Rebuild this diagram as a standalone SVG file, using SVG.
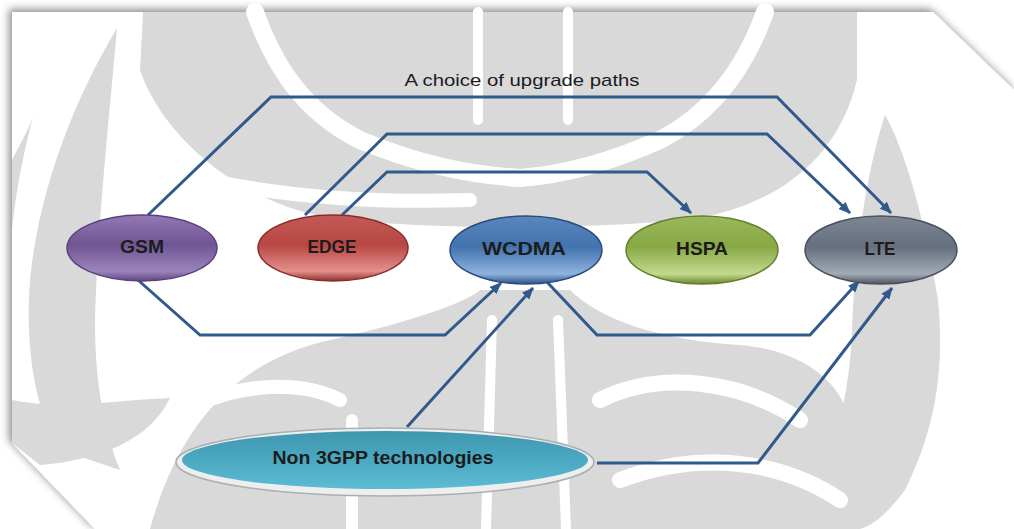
<svg xmlns="http://www.w3.org/2000/svg" width="1014" height="529" viewBox="0 0 1014 529">
  <defs>
    <style>
      .wm { fill: #d9d9d9; }
      .wmgap { fill: none; stroke: #ffffff; stroke-linecap: round; }
      .link { fill: none; stroke: #2f5a8b; stroke-width: 3; stroke-linejoin: miter; }
      .node-label { font-family: "Liberation Sans", Arial, sans-serif; font-weight: bold; font-size: 19px; fill: #1c1c1c; text-anchor: middle; }
      .title { font-family: "Liberation Sans", Arial, sans-serif; font-size: 17px; fill: #1b1b24; text-anchor: middle; }
      .rim { fill: none; stroke-width: 1.5; }
    </style>
    <filter id="pageShadow" x="-5%" y="-5%" width="110%" height="110%">
      <feGaussianBlur in="SourceAlpha" stdDeviation="4"/>
      <feOffset dx="-3" dy="-3" result="b"/>
      <feComponentTransfer><feFuncA type="linear" slope="0.45"/></feComponentTransfer>
      <feMerge><feMergeNode/><feMergeNode in="SourceGraphic"/></feMerge>
    </filter>
    <marker id="arrow" viewBox="0 0 12 10" refX="11" refY="5" markerWidth="12" markerHeight="10" markerUnits="userSpaceOnUse" orient="auto">
      <path d="M0,0 L12,5 L0,10 Z" fill="#2f5a8b"/>
    </marker>
    <linearGradient id="gPurple" x1="0" y1="0" x2="0" y2="1">
      <stop offset="0" stop-color="#9279b4"/>
      <stop offset="0.45" stop-color="#6f5593"/>
      <stop offset="0.85" stop-color="#9c84bd"/>
      <stop offset="1" stop-color="#5f4682"/>
    </linearGradient>
    <linearGradient id="gRed" x1="0" y1="0" x2="0" y2="1">
      <stop offset="0" stop-color="#c25a57"/>
      <stop offset="0.45" stop-color="#b94643"/>
      <stop offset="0.85" stop-color="#e3908d"/>
      <stop offset="1" stop-color="#8f302d"/>
    </linearGradient>
    <linearGradient id="gBlue" x1="0" y1="0" x2="0" y2="1">
      <stop offset="0" stop-color="#5a86bd"/>
      <stop offset="0.45" stop-color="#4273ad"/>
      <stop offset="0.85" stop-color="#8fb2de"/>
      <stop offset="1" stop-color="#2c5285"/>
    </linearGradient>
    <linearGradient id="gGreen" x1="0" y1="0" x2="0" y2="1">
      <stop offset="0" stop-color="#98b85a"/>
      <stop offset="0.45" stop-color="#88a846"/>
      <stop offset="0.85" stop-color="#c3da8c"/>
      <stop offset="1" stop-color="#6b8633"/>
    </linearGradient>
    <linearGradient id="gGray" x1="0" y1="0" x2="0" y2="1">
      <stop offset="0" stop-color="#7d8693"/>
      <stop offset="0.45" stop-color="#666f7d"/>
      <stop offset="0.85" stop-color="#a2aab5"/>
      <stop offset="1" stop-color="#4e5662"/>
    </linearGradient>
    <linearGradient id="gTeal" x1="0" y1="0" x2="0" y2="1">
      <stop offset="0" stop-color="#3f97ae"/>
      <stop offset="0.5" stop-color="#4aa9c2"/>
      <stop offset="1" stop-color="#5dbbd2"/>
    </linearGradient>
  </defs>

  <!-- backdrop -->
  <rect width="1014" height="529" fill="#ffffff"/>

  <!-- sheet with snipped corners -->
  <polygon points="12,12 933,12 1014,90 1014,529 95,529 12,443" fill="#ffffff" filter="url(#pageShadow)"/>

  <!-- watermark emblem -->
  <g id="watermark">
    <!-- outer crescents -->
    <path class="wm" d="M117,28 C80,90 40,180 30,280 C25,350 35,410 60,450 L120,470 C100,420 92,360 96,290 C100,200 110,110 117,28 Z"/>
    <path class="wm" d="M33,117 C26,135 18,148 12,160 L12,230 C16,190 24,150 33,117 Z"/>
    <path class="wm" d="M885,115 C905,150 925,220 938,300 C945,370 935,430 905,490 C890,510 875,525 860,529 L800,529 C830,470 850,400 852,330 C855,240 870,160 885,115 Z"/>
    <path class="wm" d="M12,400 C60,410 120,400 170,398 C150,440 100,460 40,465 L12,443 Z"/>
    <!-- crown -->
    <path class="wm" d="M143,12 L857,12 L857,80 C840,150 790,200 700,218 C600,230 420,230 330,218 C230,200 160,130 140,70 Z"/>
    <path class="wmgap" stroke-width="18" d="M255,12 C272,60 300,110 360,140 C420,165 470,175 520,178"/>
    <path class="wmgap" stroke-width="18" d="M765,12 C748,60 718,110 660,140 C604,165 560,175 520,178"/>
    <path class="wmgap" stroke-width="10" d="M478,12 L478,120"/>
    <path class="wmgap" stroke-width="10" d="M568,12 L568,120"/>
    <path class="wmgap" stroke-width="14" d="M175,172 C250,192 350,204 470,200"/>
    <!-- trunk and roots -->
    <path class="wm" d="M150,529 C180,420 240,360 330,340 C420,320 470,300 480,290 L570,290 C600,320 660,340 740,345 C800,350 840,380 850,420 L850,529 Z"/>
    <path class="wmgap" stroke-width="14" d="M170,420 C230,380 300,380 340,400"/>
    <path class="wmgap" stroke-width="16" d="M600,400 C660,370 740,380 800,420"/>
    <path class="wmgap" stroke-width="16" d="M620,480 C700,450 780,460 840,500"/>
    <path class="wmgap" stroke-width="12" d="M352,420 L352,529"/>
    <path class="wmgap" stroke-width="10" d="M492,320 L486,529"/>
    <path class="wmgap" stroke-width="10" d="M558,320 L566,529"/>
  </g>

  <text class="title" x="522" y="86" textLength="235" lengthAdjust="spacingAndGlyphs">A choice of upgrade paths</text>

  <!-- connectors -->
  <g id="connectors">
    <polyline class="link" points="148,215 271,97 777,97 891,213" marker-end="url(#arrow)"/>
    <polyline class="link" points="305,215 387,134 767,134 850,213" marker-end="url(#arrow)"/>
    <polyline class="link" points="342,215 387,172 647,172 691,213" marker-end="url(#arrow)"/>
    <polyline class="link" points="138,280 200,335 445,335 501,283" marker-end="url(#arrow)"/>
    <polyline class="link" points="407,427 533,288" marker-end="url(#arrow)"/>
    <polyline class="link" points="547,282 597,335 810,335 859,281" marker-end="url(#arrow)"/>
    <polyline class="link" points="597,463 758,463 892,288" marker-end="url(#arrow)"/>
  </g>

  <!-- nodes -->
  <g id="gsm">
    <ellipse cx="142" cy="248" rx="75" ry="33" fill="url(#gPurple)"/>
    <ellipse class="rim" cx="142" cy="248" rx="75" ry="33" stroke="#5a4179"/>
    <text class="node-label" x="142" y="253" textLength="44" lengthAdjust="spacingAndGlyphs">GSM</text>
  </g>
  <g id="edge">
    <ellipse cx="333" cy="248" rx="75" ry="33" fill="url(#gRed)"/>
    <ellipse class="rim" cx="333" cy="248" rx="75" ry="33" stroke="#8a2d2a"/>
    <text class="node-label" x="332" y="253" textLength="49" lengthAdjust="spacingAndGlyphs">EDGE</text>
  </g>
  <g id="wcdma">
    <ellipse cx="526" cy="250" rx="76" ry="34" fill="url(#gBlue)"/>
    <ellipse class="rim" cx="526" cy="250" rx="76" ry="34" stroke="#2a4d7e"/>
    <text class="node-label" x="524" y="255" textLength="84" lengthAdjust="spacingAndGlyphs">WCDMA</text>
  </g>
  <g id="hspa">
    <ellipse cx="702" cy="250" rx="76" ry="34" fill="url(#gGreen)"/>
    <ellipse class="rim" cx="702" cy="250" rx="76" ry="34" stroke="#66802f"/>
    <text class="node-label" x="702" y="255" textLength="52" lengthAdjust="spacingAndGlyphs">HSPA</text>
  </g>
  <g id="lte">
    <ellipse cx="881" cy="250" rx="76" ry="34" fill="url(#gGray)"/>
    <ellipse class="rim" cx="881" cy="250" rx="76" ry="34" stroke="#4a525d"/>
    <text class="node-label" x="880" y="255" textLength="31" lengthAdjust="spacingAndGlyphs">LTE</text>
  </g>
  <g id="non3gpp">
    <ellipse cx="385" cy="462" rx="209" ry="34" fill="#eeeeee" stroke="#a9b0b3" stroke-width="1.5"/>
    <ellipse cx="385" cy="460" rx="203" ry="29" fill="url(#gTeal)"/>
    <text class="node-label" x="383" y="464" font-size="18" textLength="221" lengthAdjust="spacingAndGlyphs">Non 3GPP technologies</text>
  </g>
</svg>
